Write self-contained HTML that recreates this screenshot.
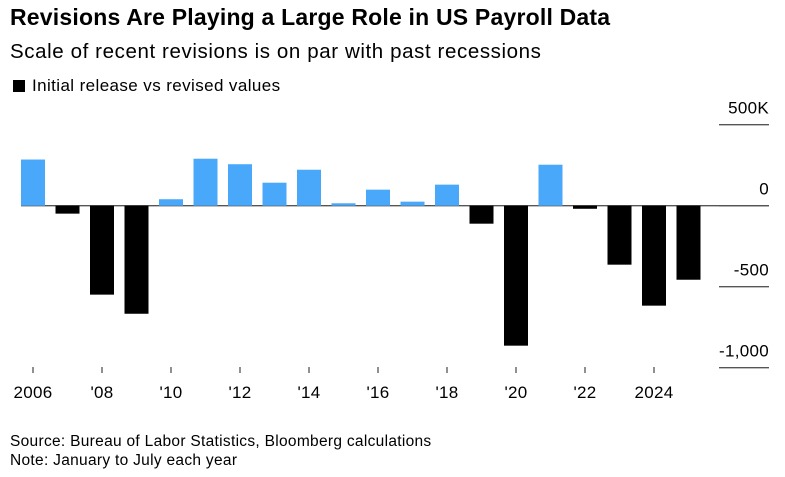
<!DOCTYPE html>
<html><head><meta charset="utf-8"><style>
body{margin:0;background:#fff;font-family:"Liberation Sans",Arial,sans-serif;}
#c{position:relative;width:785px;height:477px;overflow:hidden;}
.t{position:absolute;white-space:nowrap;color:#000;}
</style></head><body>
<div id="c">
<div class="t" style="left:10px;top:4px;font-size:23px;font-weight:bold;letter-spacing:0.2px;">Revisions Are Playing a Large Role in US Payroll Data</div>
<div class="t" style="left:10px;top:40px;font-size:20.5px;letter-spacing:0.6px;">Scale of recent revisions is on par with past recessions</div>
<div class="t" style="left:10px;top:76px;font-size:17px;letter-spacing:0.4px;"><span style="display:inline-block;width:12px;height:12px;background:#000;margin:0 7px 0 3px;vertical-align:-1px;"></span>Initial release vs revised values</div>
<svg id="s" width="785" height="477" style="position:absolute;left:0;top:0"></svg>
<div class="t" style="left:10px;top:433px;font-size:15.5px;letter-spacing:0.3px;">Source: Bureau of Labor Statistics, Bloomberg calculations</div>
<div class="t" style="left:10px;top:452px;font-size:15.5px;letter-spacing:0.3px;">Note: January to July each year</div>
</div>
<script>
const years=[2006,2007,2008,2009,2010,2011,2012,2013,2014,2015,2016,2017,2018,2019,2020,2021,2022,2023,2024,2025];
const values=[285,-49,-549,-667,40,290,256,142,222,15,99,25,130,-111,-864,253,-19,-364,-617,-457];
const yTicks=[500,0,-500,-1000];
const yTickLabels=["500K","0","-500","-1,000"];
const xTickYears=[2006,2008,2010,2012,2014,2016,2018,2020,2022,2024];
const xTickLabels=["2006","'08","'10","'12","'14","'16","'18","'20","'22","2024"];
const NS="http://www.w3.org/2000/svg";
const svg=document.getElementById('s');
function xs(y){return 33+(y-2006)*34.5;}
function ys(v){return 205.7-v*81/500;}
function el(tag,attrs){const e=document.createElementNS(NS,tag);for(const k in attrs)e.setAttribute(k,attrs[k]);svg.appendChild(e);return e;}
yTicks.forEach((v,i)=>{
 const l=el('line',{x1:719,x2:769,y1:ys(v),y2:ys(v),stroke:'#555','stroke-width':1.3});
 
 
 const t=el('text',{x:769,y:ys(v)-11,'text-anchor':'end','font-size':17,'letter-spacing':0.3,'font-family':'Liberation Sans, Arial, sans-serif'});
 t.textContent=yTickLabels[i];
 
 
});
const z=el('line',{x1:21,x2:769,y1:ys(0),y2:ys(0),stroke:'#555','stroke-width':1.3});


years.forEach((y,i)=>{
 const v=values[i];
 const top=Math.min(ys(v),ys(0)),h=Math.abs(ys(v)-ys(0));
 const r=el('rect',{x:xs(y)-12,y:top,width:24,height:h,fill:v>=0?'#4aa8fb':'#000'});
 
 
});
xTickYears.forEach((y,i)=>{
 const l=el('line',{x1:xs(y),x2:xs(y),y1:367,y2:373,stroke:'#555','stroke-width':1.3});
 
 
 const t=el('text',{x:xs(y),y:398,'text-anchor':'middle','font-size':17,'letter-spacing':0.3,'font-family':'Liberation Sans, Arial, sans-serif'});
 t.textContent=xTickLabels[i];
 
 
});
</script>
</body></html>
